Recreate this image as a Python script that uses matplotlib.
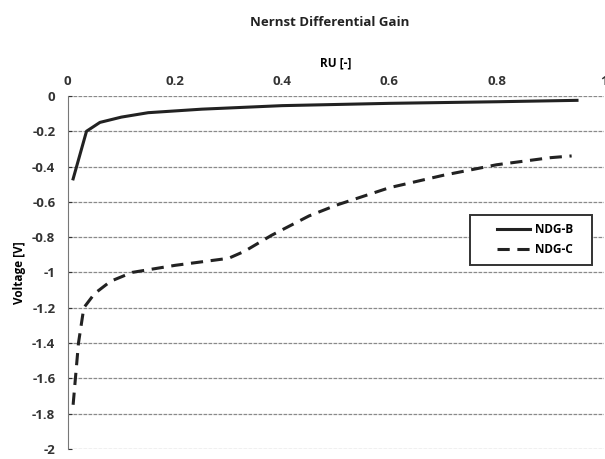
import matplotlib
matplotlib.use('Agg')
import matplotlib.pyplot as plt
from matplotlib.patches import Rectangle

plt.rcParams['font.family'] = ['Open Sans', 'DejaVu Sans']

# NDG-B (solid)
ru_b = [0.01, 0.035, 0.06, 0.1, 0.15, 0.25, 0.4, 0.6, 0.8, 0.95]
v_b = [-0.47, -0.2, -0.15, -0.12, -0.095, -0.075, -0.055, -0.042, -0.033, -0.025]

# NDG-C (dashed)
ru_c = [0.01, 0.02, 0.03, 0.05, 0.08, 0.12, 0.2, 0.3, 0.33, 0.38, 0.45, 0.5, 0.6, 0.7, 0.8, 0.9, 0.94]
v_c = [-1.75, -1.4, -1.2, -1.12, -1.05, -1.0, -0.96, -0.92, -0.88, -0.79, -0.68, -0.62, -0.52, -0.45, -0.39, -0.35, -0.34]

xticks = [0, 0.2, 0.4, 0.6, 0.8, 1]
xticklabels = ['0', '0.2', '0.4', '0.6', '0.8', '1']
yticks = [0, -0.2, -0.4, -0.6, -0.8, -1, -1.2, -1.4, -1.6, -1.8, -2]
yticklabels = ['0', '-0.2', '-0.4', '-0.6', '-0.8', '-1', '-1.2', '-1.4', '-1.6', '-1.8', '-2']

fig = plt.figure(figsize=(6.05, 4.59), dpi=100)
ax = fig.add_axes([0.112, 0.022, 0.886, 0.769])

for y in yticks:
    ax.axhline(y, color='#8a8a8a', lw=0.9, ls=(0, (3, 1)), zorder=1)

ax.plot(ru_b, v_b, color='#222222', lw=2.2, label='NDG-B', zorder=3)
ax.plot(ru_c, v_c, color='#222222', lw=2.2, ls=(0, (4, 2.5)), label='NDG-C', zorder=3)

ax.set_xlim(0, 1)
ax.set_ylim(-2, 0)
ax.xaxis.tick_top()
ax.xaxis.set_label_position('top')
ax.set_xticks(xticks)
ax.set_xticklabels(xticklabels)
ax.set_yticks(yticks)
ax.set_yticklabels(yticklabels)
ax.tick_params(axis='x', length=0, pad=6, labelsize=9.5, colors='#333333')
ax.tick_params(axis='y', length=3, direction='in', pad=9, labelsize=9.5, colors='#333333')
for lbl in ax.get_xticklabels() + ax.get_yticklabels():
    lbl.set_fontweight('bold')

for s in ['top', 'right', 'bottom']:
    ax.spines[s].set_visible(False)
ax.spines['left'].set_color('#777777')

ax.set_xlabel('RU [-]', fontsize=8.5, fontweight='bold', labelpad=6)
ax.set_ylabel('Voltage [V]', fontsize=8.5, fontweight='bold', labelpad=4)
fig.text(0.545, 0.952, 'Nernst Differential Gain', ha='center', va='center',
         fontsize=9.5, fontweight='bold', color='#222222')

# legend box drawn separately so it can be wider than the entries
ax.add_patch(Rectangle((0.75, 0.521), 0.228, 0.142, transform=ax.transAxes,
                       facecolor='white', edgecolor='#333333', lw=1.4, zorder=4))
leg = ax.legend(loc='center', bbox_to_anchor=(0.872, 0.592), fontsize=8.5,
                frameon=False, handlelength=2.8, labelspacing=0.6,
                borderaxespad=0, borderpad=0, handletextpad=0.4)
leg.set_zorder(5)
for t in leg.get_texts():
    t.set_fontweight('bold')

fig.savefig('out.png', dpi=100)
